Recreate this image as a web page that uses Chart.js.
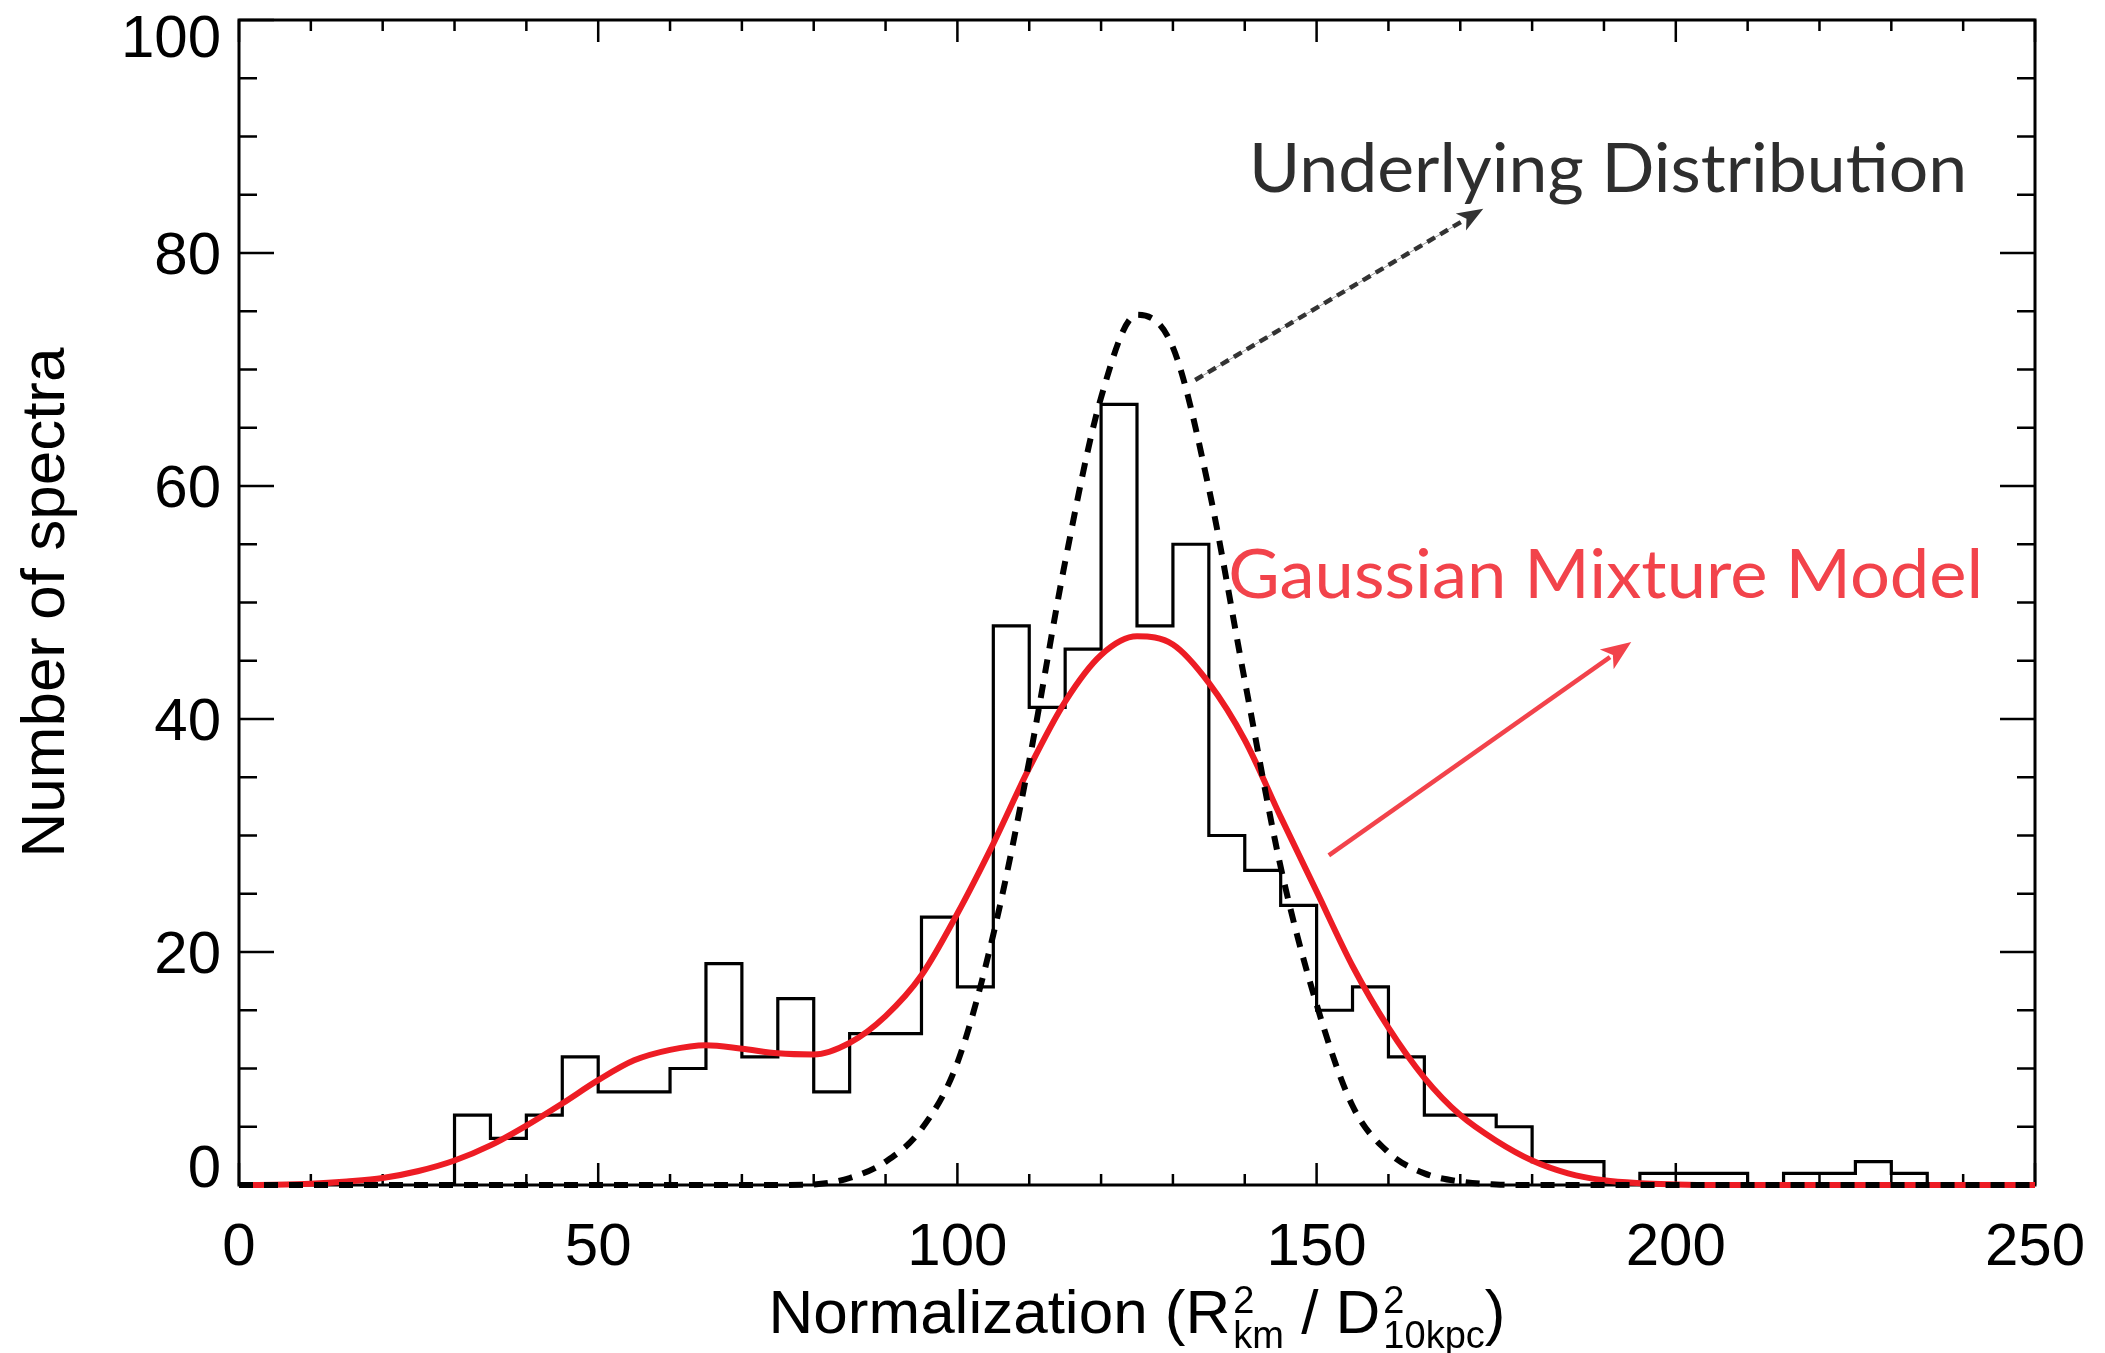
<!DOCTYPE html>
<html>
<head>
<meta charset="utf-8">
<script src="https://cdn.jsdelivr.net/npm/chart.js@4.4.0/dist/chart.umd.min.js"></script>
<style>
  html, body { margin: 0; padding: 0; background: #fff; }
  #wrap { width: 2105px; height: 1353px; position: relative; }
</style>
</head>
<body>
<div id="wrap"><canvas id="chart"></canvas></div>
<script>
// histogram, 5-unit bins (left edge -> count)
const binWidth = 5;
const binEdges = [30, 35, 40, 45, 50, 55, 60, 65, 70, 75, 80, 85, 90, 95, 100, 105, 110, 115, 120, 125,
  130, 135, 140, 145, 150, 155, 160, 165, 170, 175, 180, 185, 190, 195, 200, 205, 210, 215, 220, 225, 230];
const binCounts = [6, 4, 6, 11, 8, 8, 10, 19, 11, 16, 8, 13, 13, 23, 17, 48, 41, 46, 67, 48,
  55, 30, 27, 24, 15, 17, 11, 6, 6, 5, 2, 2, 0, 1, 1, 1, 0, 1, 1, 2, 1];

// curves every 5 units
const curveX = [0, 5, 10, 15, 20, 25, 30, 35, 40, 45, 50, 55, 60, 65, 70, 75, 80, 85, 90, 95, 100,
  105, 110, 115, 120, 125, 130, 135, 140, 145, 150, 155, 160, 165, 170, 175, 180, 185, 190, 195, 200,
  205, 210, 215, 220, 225, 230, 235, 240, 245, 250];
const underlying = [0, 0, 0, 0, 0, 0, 0, 0, 0, 0, 0, 0, 0, 0, 0, 0, 0.05, 0.6, 2.0, 4.8, 10.5,
  21.5, 36.4, 53.5, 67.6, 74.7, 71.9, 59.8, 43.3, 27.3, 15.5, 6.8, 2.8, 1.0, 0.3, 0.05, 0, 0, 0, 0, 0,
  0, 0, 0, 0, 0, 0, 0, 0, 0, 0];
const gmm = [0, 0.02, 0.1, 0.3, 0.6, 1.2, 2.1, 3.4, 5.1, 7.0, 9.0, 10.7, 11.6, 12.0, 11.7, 11.3, 11.2, 12.2, 14.5, 18.0, 23.3,
  29.3, 35.8, 41.5, 45.5, 47.1, 46.4, 43.1, 38.2, 31.6, 25.2, 18.8, 13.5, 9.2, 6.0, 3.8, 2.1, 1.0, 0.4, 0.15, 0.05,
  0, 0, 0, 0, 0, 0, 0, 0, 0, 0];

const xTickLabels = [0, 50, 100, 150, 200, 250];
const yTickLabels = [0, 20, 40, 60, 80, 100];

// annotations, placed in data units
const notes = [
  { text: "Underlying Distribution", x: 140.6, y: 85.2, width: 718, color: "#2e2e2e" },
  { text: "Gaussian Mixture Model", x: 137.7, y: 50.4, width: 755, color: "#f2434b" },
];
const arrows = [
  { from: [133.1, 69.1], to: [173.2, 83.8], color: "#333", dash: [9, 6], guide: true, head: [26, 10] },
  { from: [151.7, 28.3], to: [193.8, 46.6], color: "#f2434b", dash: [], guide: false, head: [30, 12] },
];

const SANS = '"Liberation Sans", Arial, Helvetica, sans-serif';
const NOTE_FONT = '68px Lato, "Noto Sans", sans-serif';

const histPoints = [{ x: binEdges[0], y: 0 }];
binEdges.forEach((e, i) => {
  histPoints.push({ x: e, y: binCounts[i] });
  histPoints.push({ x: e + binWidth, y: binCounts[i] });
});
histPoints.push({ x: binEdges[binEdges.length - 1] + binWidth, y: 0 });

const toPts = (ys) => curveX.map((x, i) => ({ x: x, y: ys[i] }));

function drawXTitle(ctx, cx, baseline) {
  const big = "62px " + SANS;
  const small = "38px " + SANS;
  const parts = [
    { t: "Normalization (R" },
    { sup: "2", sub: "km" },
    { t: " / D" },
    { sup: "2", sub: "10kpc" },
    { t: ")" },
  ];
  let total = 0;
  parts.forEach((p) => {
    if (p.t) {
      ctx.font = big;
      p.w = ctx.measureText(p.t).width;
    } else {
      ctx.font = small;
      p.w = Math.max(ctx.measureText(p.sup).width, ctx.measureText(p.sub).width) + 3;
    }
    total += p.w;
  });
  let x = cx - total / 2;
  ctx.textAlign = "left";
  ctx.textBaseline = "alphabetic";
  parts.forEach((p) => {
    if (p.t) {
      ctx.font = big;
      ctx.fillText(p.t, x, baseline);
    } else {
      ctx.font = small;
      ctx.fillText(p.sup, x + 3, baseline - 20);
      ctx.fillText(p.sub, x + 3, baseline + 15);
    }
    x += p.w;
  });
}

const idlAxes = {
  id: "idlAxes",
  beforeDatasetsDraw(chart) {
    const { ctx, chartArea: a, scales: { x, y } } = chart;
    ctx.save();
    ctx.strokeStyle = "#000";
    ctx.lineWidth = 3;
    ctx.strokeRect(a.left, a.top, a.right - a.left, a.bottom - a.top);

    ctx.lineWidth = 2.5;
    ctx.beginPath();
    for (let v = 0; v <= 250; v += 10) {
      const px = x.getPixelForValue(v);
      const len = v % 50 === 0 ? 22 : 11;
      ctx.moveTo(px, a.bottom);
      ctx.lineTo(px, a.bottom - len);
      ctx.moveTo(px, a.top);
      ctx.lineTo(px, a.top + len);
    }
    for (let v = 0; v <= 100; v += 5) {
      const py = y.getPixelForValue(v);
      const len = v % 20 === 0 ? 35 : 18;
      ctx.moveTo(a.left, py);
      ctx.lineTo(a.left + len, py);
      ctx.moveTo(a.right, py);
      ctx.lineTo(a.right - len, py);
    }
    ctx.stroke();

    ctx.fillStyle = "#000";
    ctx.font = "60px " + SANS;
    ctx.textBaseline = "alphabetic";
    ctx.textAlign = "center";
    xTickLabels.forEach((v) => ctx.fillText(String(v), x.getPixelForValue(v), a.bottom + 80));
    ctx.textAlign = "right";
    yTickLabels.forEach((v) => {
      let py = y.getPixelForValue(v) + 21;
      py = Math.min(Math.max(py, a.top + 37), a.bottom + 2);
      ctx.fillText(String(v), a.left - 18, py);
    });

    drawXTitle(ctx, (a.left + a.right) / 2, a.bottom + 148);
    ctx.restore();
  },
  afterDatasetsDraw(chart) {
    const { ctx, scales: { x, y } } = chart;
    ctx.save();
    arrows.forEach((ar) => {
      const x0 = x.getPixelForValue(ar.from[0]);
      const y0 = y.getPixelForValue(ar.from[1]);
      const x1 = x.getPixelForValue(ar.to[0]);
      const y1 = y.getPixelForValue(ar.to[1]);
      const ang = Math.atan2(y1 - y0, x1 - x0);
      const hl = ar.head[0];
      const hw = ar.head[1];
      const bx = x1 - Math.cos(ang) * hl;
      const by = y1 - Math.sin(ang) * hl;
      if (ar.guide) {
        ctx.strokeStyle = "#999";
        ctx.lineWidth = 1;
        ctx.setLineDash([]);
        ctx.beginPath();
        ctx.moveTo(x0, y0);
        ctx.lineTo(bx, by);
        ctx.stroke();
      }
      ctx.strokeStyle = ar.color;
      ctx.lineWidth = 4.5;
      ctx.setLineDash(ar.dash);
      ctx.beginPath();
      ctx.moveTo(x0, y0);
      ctx.lineTo(bx + Math.cos(ang) * 4, by + Math.sin(ang) * 4);
      ctx.stroke();
      ctx.setLineDash([]);
      ctx.fillStyle = ar.color;
      ctx.beginPath();
      ctx.moveTo(x1, y1);
      ctx.lineTo(bx - Math.sin(ang) * hw, by + Math.cos(ang) * hw);
      ctx.lineTo(x1 - Math.cos(ang) * hl * 0.75, y1 - Math.sin(ang) * hl * 0.75);
      ctx.lineTo(bx + Math.sin(ang) * hw, by - Math.cos(ang) * hw);
      ctx.closePath();
      ctx.fill();
    });

    ctx.font = NOTE_FONT;
    ctx.textAlign = "left";
    ctx.textBaseline = "alphabetic";
    notes.forEach((n) => {
      const w = ctx.measureText(n.text).width;
      ctx.save();
      ctx.translate(x.getPixelForValue(n.x), y.getPixelForValue(n.y));
      ctx.scale(n.width / w, 1);
      ctx.fillStyle = n.color;
      ctx.fillText(n.text, 0, 0);
      ctx.restore();
    });
    ctx.restore();
  },
};

new Chart(document.getElementById("chart"), {
  type: "line",
  data: {
    datasets: [
      {
        label: "Underlying Distribution",
        data: toPts(underlying),
        borderColor: "#000",
        borderWidth: 6,
        borderDash: [14, 11],
        cubicInterpolationMode: "monotone",
        pointRadius: 0,
        fill: false,
        clip: false,
        order: 1,
      },
      {
        label: "Gaussian Mixture Model",
        data: toPts(gmm),
        borderColor: "#ed1c24",
        borderWidth: 6,
        cubicInterpolationMode: "monotone",
        pointRadius: 0,
        fill: false,
        clip: false,
        order: 2,
      },
      {
        label: "Spectra",
        data: histPoints,
        borderColor: "#000",
        borderWidth: 3.2,
        tension: 0,
        pointRadius: 0,
        fill: false,
        borderJoinStyle: "miter",
        order: 3,
      },
    ],
  },
  options: {
    responsive: true,
    maintainAspectRatio: false,
    animation: false,
    layout: { padding: { left: 0, top: 20, right: 70, bottom: 0 } },
    plugins: { legend: { display: false }, tooltip: { enabled: false } },
    scales: {
      x: {
        type: "linear",
        min: 0,
        max: 250,
        grid: { display: false },
        border: { display: false },
        ticks: { display: false },
        afterFit(s) { s.height = 168; },
      },
      y: {
        min: 0,
        max: 100,
        grid: { display: false },
        border: { display: false },
        ticks: { display: false },
        title: {
          display: true,
          text: "Number of spectra",
          color: "#000",
          font: { family: SANS, size: 62 },
          padding: { top: 10, bottom: 0 },
        },
        afterFit(s) { s.width = 239; },
      },
    },
  },
  plugins: [idlAxes],
});
</script>
</body>
</html>
